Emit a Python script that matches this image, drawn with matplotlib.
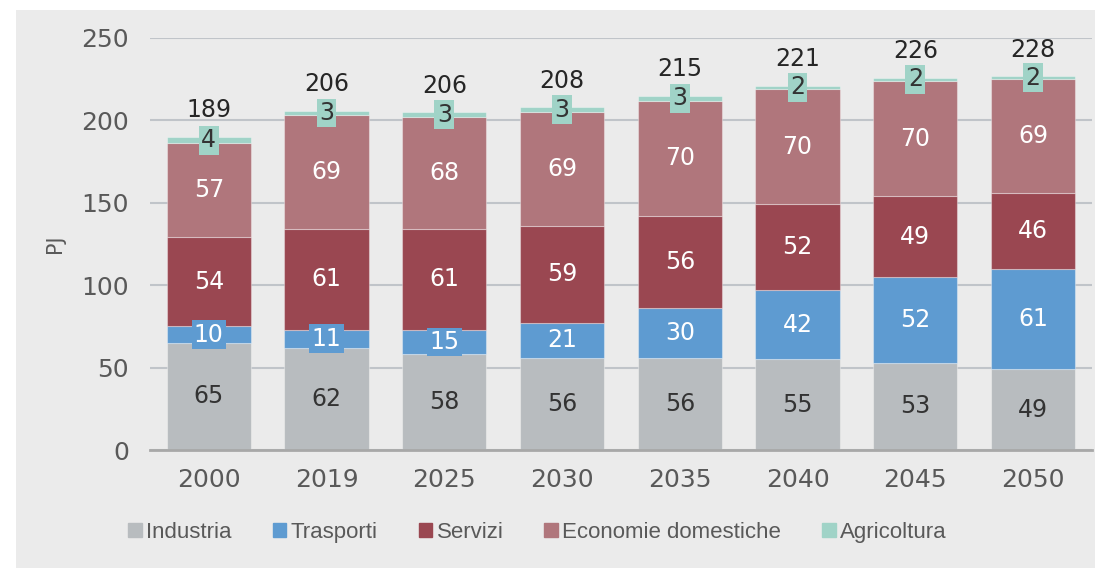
import matplotlib
matplotlib.use("Agg")
import matplotlib.pyplot as plt
import matplotlib.patches as mpatches
from matplotlib import font_manager
import numpy as np

# data
years = ["2000", "2019", "2025", "2030", "2035", "2040", "2045", "2050"]
industria = [65, 62, 58, 56, 56, 55, 53, 49]
trasporti = [10, 11, 15, 21, 30, 42, 52, 61]
servizi = [54, 61, 61, 59, 56, 52, 49, 46]
economie = [57, 69, 68, 69, 70, 70, 70, 69]
agricoltura = [4, 3, 3, 3, 3, 2, 2, 2]
totals = [189, 206, 206, 208, 215, 221, 226, 228]
series_names = ["Industria", "Trasporti", "Servizi", "Economie domestiche", "Agricoltura"]
yticks = [0, 50, 100, 150, 200, 250]

colors = ["#b8bcbf", "#5e9bd1", "#9a4751", "#b0767c", "#a0d3c7"]
label_colors = ["#333333", "white", "white", "white", "#333333"]
boxed = [False, True, False, False, True]
bg = "#ebebeb"

installed = {f.name for f in font_manager.fontManager.ttflist}
legend_font = "Liberation Sans Narrow" if "Liberation Sans Narrow" in installed else "Liberation Sans"
plt.rcParams["font.family"] = "DejaVu Sans"

fig = plt.figure(figsize=(10.97, 5.76), dpi=100, facecolor="white")
# light grey panel with a thin white margin, as in the source image
fig.patches.append(mpatches.Rectangle((0.0146, 0.0139), 0.9836, 0.9688,
                                      transform=fig.transFigure, facecolor=bg,
                                      edgecolor="none", zorder=-5))
ax = fig.add_axes([0.1367, 0.21875, 0.8587, 0.7153])
ax.set_facecolor(bg)

x = np.arange(len(years))
series = [industria, trasporti, servizi, economie, agricoltura]
bottom = np.zeros(len(years))
for vals, name, col, lcol, box in zip(series, series_names, colors, label_colors, boxed):
    vals = np.array(vals, dtype=float)
    ax.bar(x, vals, 0.715, bottom=bottom, color=col, label=name,
           edgecolor=(1, 1, 1, 0.35), linewidth=0.8, zorder=2)
    for xi, b, v in zip(x, bottom, vals):
        kw = {}
        if box:
            kw["bbox"] = dict(boxstyle="square,pad=0.1", facecolor=col, edgecolor="none")
        ax.text(xi, b + v / 2, f"{int(v)}", ha="center", va="center",
                fontsize=17, color=lcol, zorder=4, **kw)
    bottom += vals

for xi, top, t in zip(x, bottom, totals):
    ax.annotate(f"{t}", (xi, top), xytext=(0, 19), textcoords="offset points",
                ha="center", va="center", fontsize=17, color="#262626", zorder=4)

ax.set_xlim(-0.5, 7.5)
ax.set_ylim(0, 250)
ax.set_yticks(yticks)
ax.set_xticks(x)
ax.set_xticklabels(years)
ax.tick_params(axis="both", length=0, labelsize=18, labelcolor="#595959")
ax.tick_params(axis="y", pad=15)
ax.tick_params(axis="x", pad=13)
ax.grid(axis="y", color="#c0c4c9", linewidth=1.5, zorder=1)
ax.set_axisbelow(True)
for s in ["top", "right", "left"]:
    ax.spines[s].set_visible(False)
ax.spines["bottom"].set_color("#a8a8a8")
ax.spines["bottom"].set_linewidth(2)
ax.spines["bottom"].set_zorder(3)
ax.set_ylabel("PJ", fontsize=15, color="#595959", labelpad=12)

handles = [mpatches.Patch(color=c) for c in colors]
fig.legend(handles, series_names, loc="center", bbox_to_anchor=(0.49, 0.076),
           ncol=5, frameon=False, handlelength=0.6, handleheight=0.6,
           handletextpad=0.2, columnspacing=1.85,
           prop={"family": legend_font, "size": 16}, labelcolor="#595959")

fig.savefig("out.png", dpi=100, facecolor="white")
